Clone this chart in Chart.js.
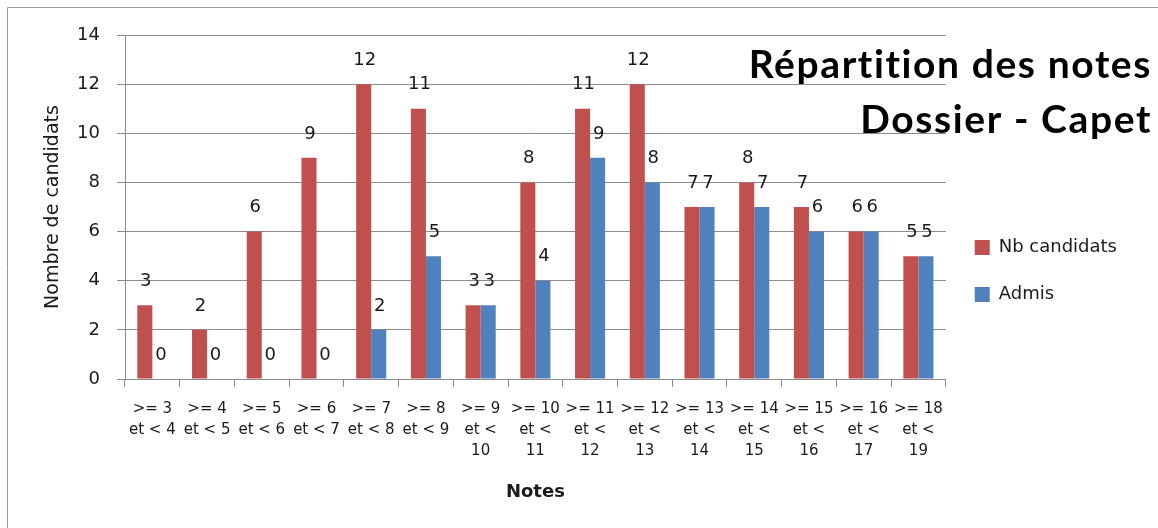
<!DOCTYPE html>
<html>
<head>
<meta charset="utf-8">
<script src="https://cdn.jsdelivr.net/npm/chart.js@4/dist/chart.umd.min.js"></script>
<style>
  html, body { margin: 0; padding: 0; background: #fff; }
  #wrap { width: 1158px; height: 528px; position: relative; }
</style>
</head>
<body>
<div id="wrap"><canvas id="chart"></canvas></div>
<script>
// Categories (notes ranges)
const categories = [
    ['>= 3', 'et < 4'], ['>= 4', 'et < 5'], ['>= 5', 'et < 6'], ['>= 6', 'et < 7'],
    ['>= 7', 'et < 8'], ['>= 8', 'et < 9'], ['>= 9', 'et <', '10'], ['>= 10', 'et <', '11'],
    ['>= 11', 'et <', '12'], ['>= 12', 'et <', '13'], ['>= 13', 'et <', '14'], ['>= 14', 'et <', '15'],
    ['>= 15', 'et <', '16'], ['>= 16', 'et <', '17'], ['>= 18', 'et <', '19']
];
const nbCandidats = [3, 2, 6, 9, 12, 11, 3, 8, 11, 12, 7, 8, 7, 6, 5];
const admis = [0, 0, 0, 0, 2, 5, 3, 4, 9, 8, 7, 7, 6, 6, 5];
const yTicks = [0, 2, 4, 6, 8, 10, 12, 14];
const titleLines = ['Répartition des notes', 'Dossier - Capet'];

const FONT = '"DejaVu Sans", sans-serif';
const TITLE_FONT = 'Lato, "Open Sans", sans-serif';
const GRID = '#8c8c8c';
const TEXT = '#1a1a1a';

// Draws the value above each bar
const valueLabels = {
    id: 'valueLabels',
    afterDatasetsDraw(chart) {
        const ctx = chart.ctx;
        ctx.save();
        ctx.font = '18px ' + FONT;
        ctx.fillStyle = TEXT;
        ctx.textAlign = 'center';
        ctx.textBaseline = 'middle';
        chart.data.datasets.forEach((ds, i) => {
            chart.getDatasetMeta(i).data.forEach((bar, j) => {
                ctx.fillText(ds.data[j], bar.x + 1, bar.y - 24);
            });
        });
        ctx.restore();
    }
};

// Big title over the top right corner, plus the outer frame
const cornerTitle = {
    id: 'cornerTitle',
    afterDraw(chart) {
        const ctx = chart.ctx;
        ctx.save();
        ctx.strokeStyle = '#999';
        ctx.lineWidth = 1;
        ctx.beginPath();
        ctx.moveTo(7.5, 528);
        ctx.lineTo(7.5, 7.5);
        ctx.lineTo(1158, 7.5);
        ctx.stroke();

        ctx.font = 'bold 39px ' + TITLE_FONT;
        ctx.letterSpacing = '1.6px';
        ctx.fillStyle = '#000';
        ctx.textAlign = 'right';
        ctx.textBaseline = 'alphabetic';
        ctx.fillText(titleLines[0], 1152, 78);
        ctx.fillText(titleLines[1], 1152, 133);
        ctx.restore();
    }
};

const ctx = document.getElementById('chart').getContext('2d');
const chart = new Chart(ctx, {
    type: 'bar',
    data: {
        labels: categories,
        datasets: [{
            label: 'Nb candidats',
            data: nbCandidats,
            backgroundColor: '#c0504d',
            categoryPercentage: 0.55,
            barPercentage: 1
        }, {
            label: 'Admis',
            data: admis,
            backgroundColor: '#4f81bd',
            categoryPercentage: 0.55,
            barPercentage: 1
        }]
    },
    options: {
        responsive: true,
        maintainAspectRatio: false,
        animation: false,
        layout: { padding: { top: 35, left: 38, right: 31, bottom: 21 } },
        plugins: {
            legend: {
                position: 'right',
                labels: {
                    font: { size: 18, family: FONT },
                    color: TEXT,
                    boxWidth: 15,
                    boxHeight: 15,
                    padding: 29
                }
            },
            tooltip: { enabled: false }
        },
        scales: {
            x: {
                grid: {
                    display: true,
                    drawOnChartArea: false,
                    color: GRID,
                    tickLength: 8,
                    offset: true
                },
                border: { color: GRID },
                ticks: {
                    font: { size: 15, family: FONT, lineHeight: 1.4 },
                    color: TEXT,
                    padding: 12,
                    maxRotation: 0,
                    autoSkip: false
                },
                title: {
                    display: true,
                    text: 'Notes',
                    font: { size: 18, weight: 'bold', family: FONT },
                    color: TEXT
                },
                afterFit(scale) { scale.height = 128; }
            },
            y: {
                min: 0,
                max: 14,
                afterBuildTicks(scale) { scale.ticks = yTicks.map(v => ({ value: v })); },
                grid: { color: GRID, tickLength: 8 },
                border: { color: GRID },
                ticks: {
                    font: { size: 18, family: FONT },
                    color: TEXT,
                    padding: 17
                },
                title: {
                    display: true,
                    text: 'Nombre de candidats',
                    font: { size: 19, family: FONT },
                    color: TEXT
                },
                afterFit(scale) { scale.width = 87; }
            }
        }
    },
    plugins: [valueLabels, cornerTitle]
});
</script>
</body>
</html>
